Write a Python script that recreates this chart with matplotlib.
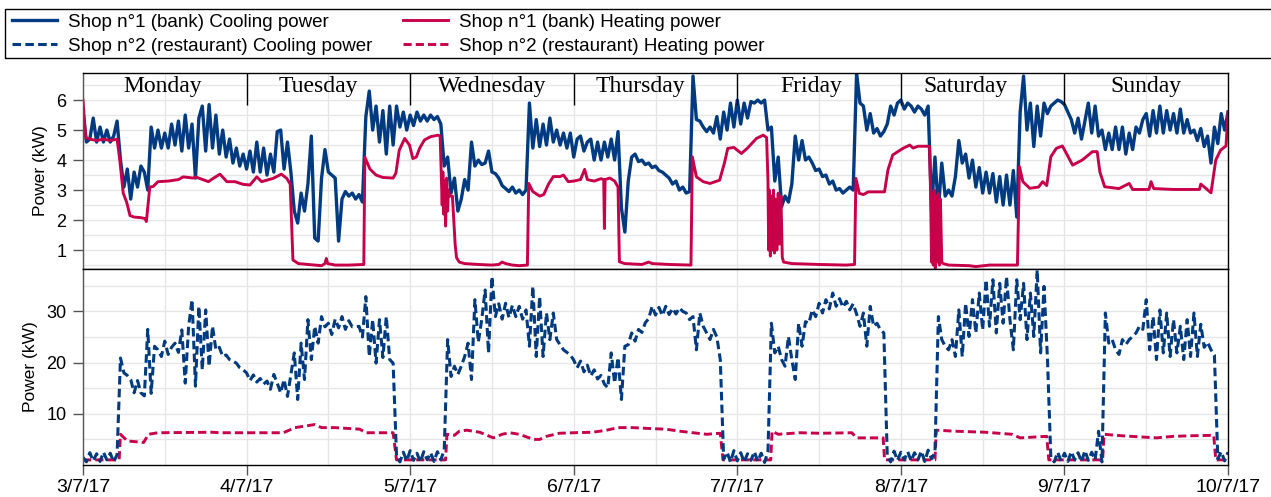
import numpy as np
import matplotlib
matplotlib.use("Agg")
import matplotlib.pyplot as plt
from matplotlib.patches import Rectangle

plt.rcParams['font.family'] = 'sans-serif'
plt.rcParams['font.sans-serif'] = ['Liberation Sans', 'DejaVu Sans']

# hours since 3/7/17 00:00, cooling series sampled every 30 min
step = 0.5

bank_cooling = [
    # Monday
    5.6, 4.6, 4.7, 5.4, 4.6, 5.1, 4.6, 5.0,
    4.6, 4.8, 5.3, 4.0, 3.1, 3.7, 2.7, 3.6,
    3.1, 3.8, 3.6, 3.0, 5.1, 4.4, 5.0, 4.4,
    4.9, 4.4, 5.2, 4.5, 5.3, 4.3, 5.5, 4.4,
    5.2, 3.4, 5.4, 5.8, 4.3, 5.85, 4.4, 5.5,
    4.2, 5.0, 4.1, 4.7, 3.9, 4.4, 3.8, 4.2,
    # Tuesday
    3.7, 4.3, 3.6, 4.6, 3.6, 4.4, 3.5, 4.2,
    3.6, 4.95, 5.0, 3.7, 4.6, 3.6, 2.3, 1.9,
    2.9, 2.3, 3.2, 4.8, 1.4, 1.3, 3.4, 4.35,
    3.6, 3.5, 3.4, 1.3, 2.7, 2.95, 2.8, 2.9,
    2.7, 2.85, 2.6, 5.45, 6.3, 5.0, 5.8, 4.6,
    5.65, 4.2, 5.8, 4.5, 5.8, 5.1, 5.6, 5.0,
    # Wednesday
    5.5, 5.15, 5.6, 5.3, 5.5, 5.3, 5.5, 5.35,
    5.45, 5.2, 3.8, 4.1, 2.9, 3.4, 2.3, 2.7,
    3.35, 3.0, 4.6, 3.8, 4.0, 3.85, 3.9, 4.3,
    3.6, 3.55, 3.4, 3.15, 3.05, 2.95, 3.1, 2.9,
    3.0, 2.85, 3.0, 5.9, 4.4, 5.35, 4.45, 5.2,
    4.5, 5.4, 4.6, 5.0, 4.5, 4.9, 4.4, 4.9,
    # Thursday
    4.1, 4.7, 4.8, 4.3, 4.6, 4.7, 4.0, 4.6,
    4.0, 4.6, 4.1, 4.7, 4.0, 4.95, 2.4, 1.6,
    3.3, 4.1, 4.2, 3.95, 4.0, 3.85, 3.9, 3.75,
    3.8, 3.65, 3.6, 3.5, 3.4, 3.2, 3.3, 3.0,
    3.1, 2.9, 2.95, 6.8, 5.35, 5.3, 5.1, 4.95,
    5.1, 4.9, 5.45, 4.7, 5.6, 5.0, 5.9, 5.1,
    # Friday
    6.0, 5.2, 5.9, 5.4, 5.95, 5.9, 6.0, 5.9,
    6.0, 5.0, 5.1, 3.3, 4.1, 2.45, 2.8, 2.6,
    3.2, 4.8, 4.0, 4.65, 4.0, 4.1, 3.9, 3.65,
    3.7, 3.45, 3.5, 3.2, 3.3, 3.0, 3.05, 2.9,
    3.0, 3.1, 3.0, 6.9, 5.9, 5.8, 5.0, 5.55,
    4.9, 5.05, 4.8, 4.95, 5.2, 5.8, 5.5, 5.9,
    # Saturday
    6.0, 5.7, 5.9, 5.8, 5.6, 5.8, 5.7, 5.5,
    5.8, 2.35, 4.1, 2.35, 3.9, 2.8, 3.0, 2.8,
    3.45, 4.65, 3.9, 4.2, 3.4, 4.0, 3.1, 3.75,
    2.9, 3.6, 2.9, 3.55, 2.6, 3.45, 2.5, 3.5,
    2.5, 3.65, 2.1, 5.6, 6.8, 5.0, 5.9, 4.45,
    5.8, 4.8, 5.9, 5.55, 5.8, 5.9, 6.0, 5.95,
    # Sunday
    5.85, 5.6, 5.35, 4.9, 5.4, 4.7, 5.3, 5.9,
    4.9, 5.8, 4.8, 5.0, 4.35, 4.9, 4.35, 5.1,
    4.35, 5.1, 4.2, 4.9, 4.35, 5.1, 4.9, 5.35,
    5.55, 4.8, 5.65, 4.9, 5.8, 4.9, 5.65, 5.0,
    5.55, 4.9, 5.7, 4.9, 5.35, 4.9, 5.0, 4.65,
    5.05, 4.45, 4.8, 3.9, 5.1, 4.55, 5.55, 5.0,
    5.6,
]

restaurant_cooling = [
    # Monday
    1.5, 0.6, 2.4, 0.8, 2.2, 0.7, 2.5, 1.0,
    2.3, 0.6, 2.0, 20.9, 18.0, 17.5, 16.7, 14.1,
    16.5, 14.1, 13.5, 26.5, 14.0, 23.2, 22.5, 21.2,
    24.2, 21.6, 23.0, 23.8, 22.0, 26.4, 16.0, 27.1,
    32.3, 15.4, 31.0, 18.6, 30.3, 19.3, 27.1, 22.5,
    23.0, 21.2, 21.5, 20.6, 20.3, 19.9, 19.0, 18.6,
    # Tuesday
    18.0, 16.5, 17.6, 16.2, 16.9, 15.8, 16.4, 14.8,
    17.7, 16.0, 14.1, 16.7, 13.4, 17.7, 21.9, 12.8,
    23.8, 16.7, 28.4, 20.6, 27.1, 23.8, 29.0, 27.0,
    27.7, 25.5, 28.5, 26.8, 29.0, 26.5, 28.2, 27.0,
    27.0, 27.1, 25.0, 32.9, 21.2, 28.4, 19.9, 28.4,
    21.0, 29.0, 20.6, 19.9, 1.8, 0.6, 2.5, 0.8,
    # Wednesday
    2.8, 0.9, 2.3, 0.6, 2.6, 1.0, 2.4, 0.7,
    2.6, 1.0, 3.0, 24.5, 17.3, 19.3, 17.7, 19.3,
    21.2, 23.8, 16.7, 32.3, 24.0, 28.4, 34.2, 21.9,
    36.8, 29.0, 31.5, 28.5, 31.6, 28.8, 31.2, 29.0,
    31.0, 28.5, 30.3, 23.2, 34.9, 21.2, 32.9, 21.2,
    29.7, 24.5, 29.7, 24.5, 23.5, 22.5, 22.0, 21.5,
    # Thursday
    20.5, 19.0, 20.3, 18.2, 19.5, 17.4, 18.6, 16.8,
    17.5, 15.8, 15.1, 21.9, 16.0, 21.0, 12.8, 23.2,
    23.5, 25.8, 24.2, 26.5, 25.9, 27.8, 28.6, 31.0,
    29.3, 30.8, 29.2, 31.0, 29.4, 30.6, 29.5, 30.7,
    30.0, 29.7, 28.4, 29.0, 22.5, 29.7, 27.1, 25.8,
    24.5, 26.5, 25.0, 20.6, 1.1, 2.5, 0.6, 2.8,
    # Friday
    0.8, 2.4, 0.6, 2.2, 0.9, 2.6, 0.7, 2.3,
    0.5, 2.7, 27.7, 21.9, 23.2, 20.6, 19.3, 25.1,
    20.6, 16.7, 27.7, 23.2, 28.0, 27.7, 30.3, 29.0,
    31.6, 29.7, 32.3, 30.5, 33.6, 31.0, 32.5, 30.8,
    32.0, 30.3, 31.5, 29.5, 27.1, 29.7, 23.2, 31.0,
    27.1, 27.7, 26.4, 25.8, 1.75, 0.6, 2.7, 0.9,
    # Saturday
    2.5, 1.0, 2.6, 0.8, 2.4, 1.0, 2.7, 0.7,
    2.9, 1.2, 2.5, 29.0, 24.5, 23.2, 22.5, 24.5,
    21.2, 30.3, 21.2, 31.6, 25.1, 32.3, 25.8, 33.6,
    26.4, 36.2, 27.1, 36.2, 25.8, 35.5, 27.7, 36.8,
    28.4, 22.5, 36.2, 28.4, 35.5, 24.5, 33.6, 25.1,
    38.1, 21.9, 34.9, 21.0, 1.5, 0.6, 2.5, 0.8,
    # Sunday
    2.3, 0.7, 2.6, 1.0, 2.4, 0.6, 2.8, 0.9,
    2.5, 1.0, 6.6, 0.6, 29.7, 23.8, 24.5, 22.5,
    21.6, 24.5, 23.5, 24.5, 25.1, 25.8, 27.1, 26.5,
    32.3, 22.5, 29.0, 20.6, 30.3, 21.9, 29.7, 21.2,
    28.4, 21.9, 27.1, 20.6, 28.4, 21.2, 29.7, 21.2,
    27.5, 23.0, 24.0, 22.5, 21.5, 1.2, 2.6, 0.8,
    2.5,
]

# heating series: (hour, kW) readings
bank_heating_t = [
    0, 0.4, 1, 2, 3, 4, 5, 5.4, 5.9, 6.4, 6.9, 7.5, 8.5, 9.1, 9.3, 9.8, 10.3, 11,
    12.5, 14, 14.7, 15.5, 16.2, 16.5, 17.8, 18.4, 19.1, 20.1, 21.1, 22.3, 23.5,
    24.5, 25.5, 26.2, 27.9, 29.1, 29.9, 30.4, 30.8, 31.6, 33, 34, 35, 35.5, 35.7,
    35.9, 37, 39, 41.2, 41.35, 42.1, 43, 44, 45.5, 45.9, 46.4, 47.2, 47.9, 48.4,
    48.9, 49.4, 50.1, 51, 52.1, 52.4, 52.6, 52.7, 52.8, 52.9, 53.0, 53.2, 53.35,
    53.5, 53.6, 53.8, 54.2, 54.6, 54.8, 55.2, 56, 58, 60, 61, 61.5, 62, 63, 64,
    65.2, 65.4, 66, 67, 67.6, 68.3, 69, 70, 70.5, 71.2, 72, 73, 73.6, 74, 75, 76,
    76.4, 76.5, 76.6, 77.3, 78, 78.5, 78.7, 79.5, 82, 83, 83.5, 86, 89.2, 89.4,
    90, 91, 92, 93.4, 94.1, 94.6, 95.5, 96.6, 97.5, 98.8, 99.8, 100.3, 100.5,
    100.6, 100.7, 100.85, 101.0, 101.15, 101.3, 101.45, 101.6, 101.8, 102.0,
    102.2, 102.4, 102.6, 102.8, 104, 108, 112, 113.2, 113.4, 113.9, 114.5, 115.2,
    117.6, 118.1, 118.8, 120.3, 121.3, 121.8, 122.5, 124.2, 124.35, 124.5, 124.6,
    124.75, 124.9, 125.05, 125.2, 125.35, 125.5, 125.65, 125.8, 126.0, 126.2,
    127, 130, 131, 133, 137.1, 137.4, 137.9, 138.9, 140.2, 140.8, 141.4, 142,
    142.8, 143.7, 145.2, 146.6, 148.1, 148.8, 149.2, 149.9, 152, 153.5, 154,
    156.4, 156.7, 157.1, 160, 163.8, 164, 165.5, 166.2, 166.9, 167.7, 168,
]
bank_heating = [
    6.0, 4.75, 4.7, 4.65, 4.7, 4.65, 4.7, 4.0, 2.9, 2.6, 2.15, 2.1, 2.08, 2.05,
    1.95, 3.1, 3.12, 3.28, 3.3, 3.35, 3.44, 3.42, 3.4, 3.44, 3.33, 3.28, 3.39,
    3.53, 3.28, 3.28, 3.19, 3.17, 3.44, 3.28, 3.39, 3.53, 3.39, 3.2, 0.67, 0.55,
    0.52, 0.5, 0.48, 0.55, 0.72, 0.55, 0.5, 0.5, 0.52, 4.1, 3.7, 3.5, 3.42, 3.4,
    3.56, 4.33, 4.72, 4.5, 4.05, 4.1, 4.4, 4.67, 4.78, 4.83, 4.8, 3.3, 2.5, 3.6,
    2.2, 3.3, 1.8, 3.4, 2.3, 3.0, 2.8, 2.8, 1.2, 0.75, 0.6, 0.55, 0.52, 0.5,
    0.52, 0.6, 0.55, 0.5, 0.48, 0.5, 3.22, 2.95, 2.8, 2.85, 3.2, 3.45, 3.45, 3.5,
    3.28, 3.3, 3.35, 3.69, 3.35, 3.3, 3.38, 3.35, 1.72, 3.35, 3.4, 3.3, 3.1,
    0.61, 0.55, 0.52, 0.6, 0.55, 0.52, 0.5, 4.11, 3.44, 3.28, 3.22, 3.33, 3.89,
    4.39, 4.42, 4.22, 4.4, 4.72, 4.83, 4.75, 3.3, 1.0, 3.0, 0.8, 2.8, 1.0, 3.0,
    0.9, 2.7, 1.0, 2.9, 1.2, 2.8, 0.75, 0.6, 0.55, 0.52, 0.5, 0.52, 3.39, 2.89,
    2.85, 2.94, 2.94, 3.67, 4.17, 4.39, 4.5, 4.4, 4.46, 4.46, 3.0, 0.6, 2.9, 0.5,
    3.0, 0.4, 2.8, 0.6, 2.9, 0.5, 2.7, 0.6, 0.55, 0.5, 0.48, 0.45, 0.5, 0.5, 3.78,
    3.28, 3.06, 3.1, 3.28, 3.15, 4.11, 4.39, 4.47, 3.83, 4.0, 4.28, 4.28, 3.6,
    3.11, 3.05, 3.22, 3.02, 3.02, 3.28, 3.05, 3.02, 3.02, 3.2, 2.91, 4.0, 4.33,
    4.47, 5.6,
]

restaurant_heating_t = [
    0, 5.3, 5.5, 6.5, 8.9, 9.6, 11, 19, 20, 29.4, 31.1, 34, 35, 37, 40.6, 41.5,
    45.5, 46, 53.2, 53.4, 54.5, 55.2, 56.3, 58.2, 60.2, 61.5, 62.6, 64, 66.1, 67,
    68, 69.9, 72, 74.8, 76.8, 78.5, 80.7, 83.6, 85.5, 87.6, 89.5, 91.5, 93.5,
    93.9, 100.9, 101.1, 102, 105.2, 108.1, 112.8, 113.5, 117.4, 117.6, 125.0,
    125.2, 128, 132.4, 136.3, 137.5, 141.4, 141.7, 149.6, 149.8, 152.5, 157.5,
    160, 162.4, 165.9, 166.2, 168,
]
restaurant_heating = [
    1.0, 1.0, 6.0, 4.7, 4.4, 6.0, 6.3, 6.4, 6.3, 6.3, 7.3, 7.9, 7.3, 7.3, 7.0,
    6.3, 6.3, 1.0, 1.0, 6.0, 5.8, 6.6, 6.8, 6.4, 5.3, 6.0, 6.3, 6.0, 5.0, 5.0,
    5.6, 6.2, 6.3, 6.4, 6.8, 7.3, 7.3, 7.1, 7.0, 6.6, 6.3, 6.0, 6.2, 1.0, 1.0,
    6.6, 6.0, 6.3, 6.2, 6.3, 5.3, 5.3, 1.0, 1.0, 6.8, 6.6, 6.4, 6.0, 5.3, 5.6,
    1.0, 1.0, 6.0, 5.7, 5.3, 5.6, 5.7, 5.8, 1.0, 1.0,
]

date_labels = ['3/7/17', '4/7/17', '5/7/17', '6/7/17', '7/7/17', '8/7/17', '9/7/17', '10/7/17']
day_names = ['Monday', 'Tuesday', 'Wednesday', 'Thursday', 'Friday', 'Saturday', 'Sunday']
day_name_pos = [11.7, 34.5, 60.0, 81.8, 106.9, 129.5, 155.9]

blue = '#003a80'
red = '#c8004a'

t_cool = np.arange(len(bank_cooling)) * step
t_rest = np.arange(len(restaurant_cooling)) * step

fig = plt.figure(figsize=(12.71, 4.97), dpi=100)
ax1 = fig.add_axes([0.0653, 0.4588, 0.9009, 0.3942])
ax2 = fig.add_axes([0.0653, 0.0644, 0.9009, 0.3944], sharex=ax1)

l1, = ax1.plot(t_cool, bank_cooling, color=blue, lw=2.4, solid_joinstyle='round',
               label='Shop n°1 (bank) Cooling power')
l3, = ax1.plot(bank_heating_t, bank_heating, color=red, lw=2.1,
               label='Shop n°1 (bank) Heating power')

l4, = ax2.plot(restaurant_heating_t, restaurant_heating, color=red, lw=2.1,
               dashes=(2.8, 1.4), label='Shop n°2 (restaurant) Heating power')
l2, = ax2.plot(t_rest, restaurant_cooling, color=blue, lw=2.2, dashes=(2.8, 1.4),
               label='Shop n°2 (restaurant) Cooling power')

ax1.set_ylim(0.37, 6.9)
ax1.set_yticks([1, 2, 3, 4, 5, 6])
ax1.set_yticks(np.arange(0.5, 7.0, 0.5), minor=True)
ax2.set_ylim(0, 38.3)
ax2.set_yticks([10, 20, 30])
ax2.set_yticks([5, 15, 25, 35], minor=True)

ax2.set_xlim(0, 168)
ax2.set_xticks(np.arange(0, 169, 24))
ax2.set_xticks(np.arange(12, 168, 24), minor=True)
ax2.set_xticklabels(date_labels)

for ax in (ax1, ax2):
    ax.set_axisbelow(True)
    ax.grid(True, which='both', color='#e6e6e6', lw=1.0)
    ax.set_ylabel('Power (kW)', fontsize=12.5, labelpad=6)
    ax.tick_params(axis='y', which='major', direction='out', length=7, width=1,
                   color='#555555', labelsize=13, pad=5)
    ax.tick_params(which='minor', length=0)
    for side in ('top', 'right', 'bottom'):
        ax.spines[side].set_color('black')
        ax.spines[side].set_linewidth(1.0)
    ax.spines['left'].set_color('#555555')
    ax.spines['left'].set_linewidth(1.0)

ax1.tick_params(axis='x', which='both', length=0, labelbottom=False)
ax2.tick_params(axis='x', which='major', direction='out', length=7, width=1,
                color='#555555', labelsize=14, pad=3)

# day separators and names in the top panel
ax1.vlines(np.arange(24, 168, 24), 5.83, 6.9, color='black', lw=1.0)
for name, pos in zip(day_names, day_name_pos):
    ax1.text(pos, 6.45, name, ha='center', va='center', fontsize=17,
             family='Liberation Serif')

# legend in a full-width box
fig.patches.append(Rectangle((0.004, 0.884), 1.2, 0.098, transform=fig.transFigure,
                             fill=False, edgecolor='black', lw=1.0))
fig.legend(handles=[l1, l2, l3, l4], ncol=2, loc='upper left',
           bbox_to_anchor=(0.0094, 0.973), frameon=False, fontsize=13.5,
           handlelength=2.4, handletextpad=0.6, columnspacing=1.6,
           labelspacing=0.38, borderpad=0, borderaxespad=0)

fig.savefig('out.png', dpi=100)
